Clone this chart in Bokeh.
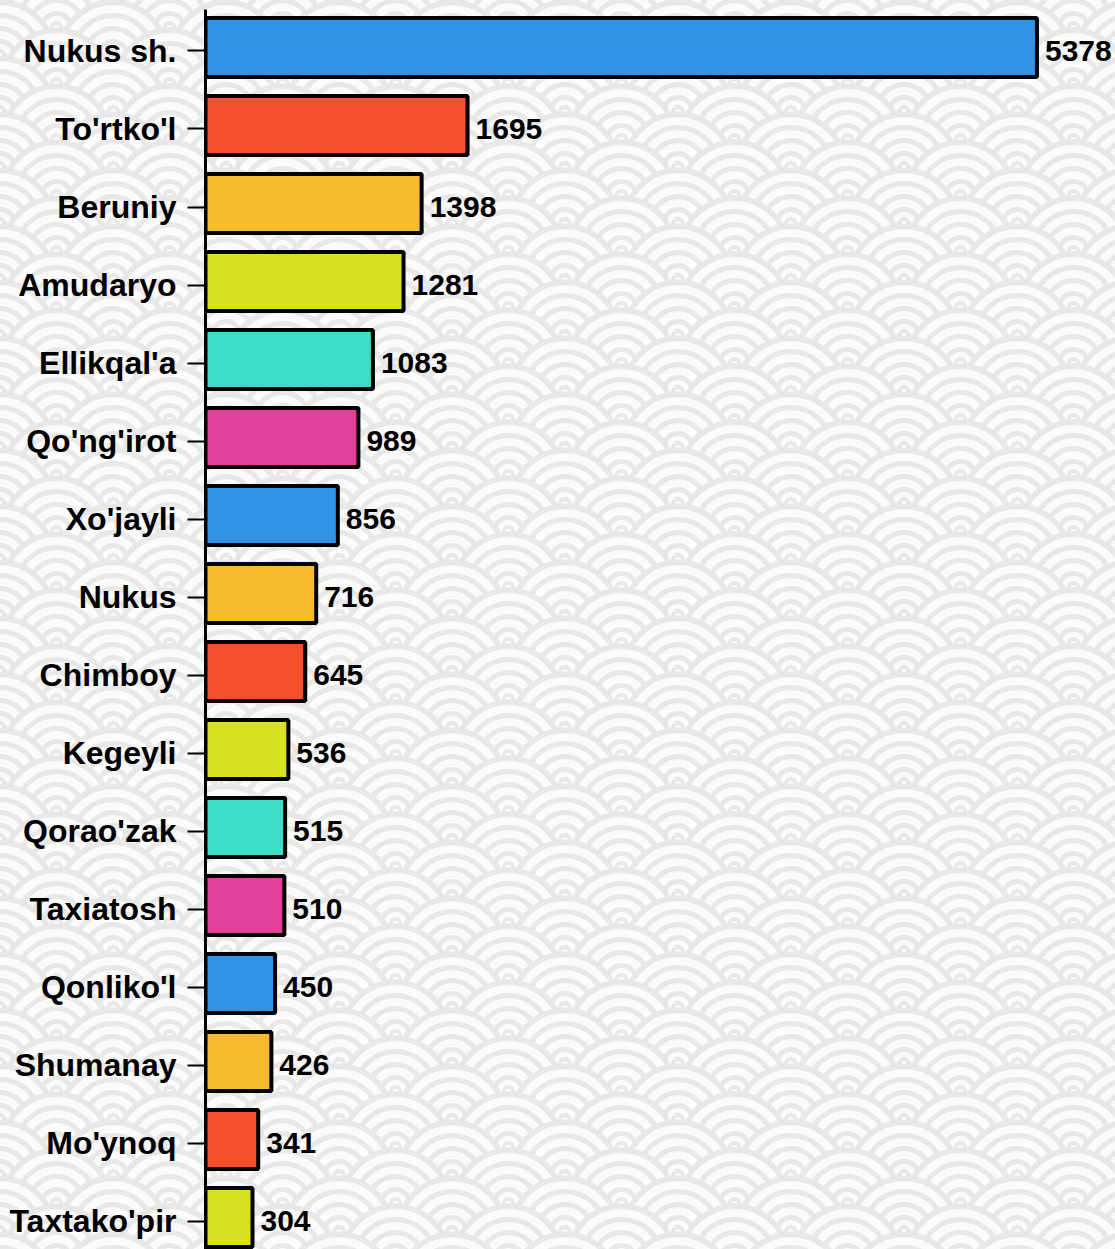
import base64
from bokeh.plotting import figure
from bokeh.models import ColumnDataSource, Range1d, FixedTicker, LabelSet, GlobalInlineStyleSheet
from bokeh.core.properties import value
from bokeh.transform import dodge
from bokeh.embed import file_html
from bokeh.resources import INLINE

# ---- data ----
districts = ["Nukus sh.", "To'rtko'l", "Beruniy", "Amudaryo", "Ellikqal'a", "Qo'ng'irot",
             "Xo'jayli", "Nukus", "Chimboy", "Kegeyli", "Qorao'zak", "Taxiatosh",
             "Qonliko'l", "Shumanay", "Mo'ynoq", "Taxtako'pir"]
counts = [5378, 1695, 1398, 1281, 1083, 989, 856, 716, 645, 536, 515, 510, 450, 426, 341, 304]
bar_colors = ["#2F93E8", "#F5502C", "#F6BC2E", "#D8E022", "#3DDCC4", "#E43F98",
              "#2F93E8", "#F6BC2E", "#F5502C", "#D8E022", "#3DDCC4", "#E43F98",
              "#2F93E8", "#F6BC2E", "#F5502C", "#D8E022"]

# ---- seigaiha background pattern (decoration) ----
def seigaiha_svg():
    W, H = 113.0, 56.0
    grey, white = "#e8e8e8", "#fbfbfb"
    bands = [(56.5, grey), (51, white), (43, grey), (38, white), (30, grey), (25, white),
             (17, grey), (12, white), (7, grey), (3, white)]
    parts = []
    for j in range(-2, 5):
        cy = j * 28.0
        xs = [0.0, W] if j % 2 == 0 else [-W / 2, W / 2, W * 1.5]
        for cx in xs:
            for r, c in bands:
                parts.append(f'<circle cx="{cx}" cy="{cy}" r="{r}" fill="{c}"/>')
    svg = (f'<svg xmlns="http://www.w3.org/2000/svg" width="{W}" height="{H}" '
           f'viewBox="0 0 {W} {H}">' + "".join(parts) + "</svg>")
    return base64.b64encode(svg.encode()).decode()

css = ("html, body { background-color: #f4f4f4; background-image: url('data:image/svg+xml;base64,"
       + seigaiha_svg() + "'); background-size: 113px 56px; }")

# ---- figure ----
ys = list(range(len(districts)))
src = ColumnDataSource(dict(y=ys, value=counts, color=bar_colors,
                            label=[str(v) for v in counts]))

p = figure(width=1115, height=1249, output_backend="svg", toolbar_location=None,
           x_axis_location=None,
           x_range=Range1d(0, 5886), y_range=Range1d(15.365, -0.532),
           min_border_left=205, min_border_right=0, min_border_top=9, min_border_bottom=0)
p.background_fill_color = None
p.border_fill_color = None
p.outline_line_color = None
p.xgrid.visible = False
p.ygrid.visible = False
p.stylesheets = [GlobalInlineStyleSheet(css=css)]

p.hbar(y=dodge("y", -0.045, range=p.y_range), left=0, right="value", height=0.756,
       fill_color="color", line_color="black", line_width=4, source=src)

labels = LabelSet(x="value", y="y", text="label", x_offset=8, source=src,
                  text_baseline="middle", text_align="left",
                  text_font=value("Liberation Sans"), text_font_style="bold",
                  text_font_size="30px", text_color="black")
p.add_layout(labels)

ax = p.yaxis[0]
ax.ticker = FixedTicker(ticks=ys)
ax.major_label_overrides = {i: d for i, d in zip(ys, districts)}
ax.axis_line_color = "black"
ax.axis_line_width = 3
ax.major_tick_line_color = "black"
ax.major_tick_line_width = 2
ax.major_tick_out = 18
ax.major_tick_in = 0
ax.minor_tick_line_color = None
ax.major_label_standoff = 11
ax.major_label_text_font = "Liberation Sans"
ax.major_label_text_font_style = "bold"
ax.major_label_text_font_size = "32px"
ax.major_label_text_color = "black"

open("out.html", "w").write(file_html(p, INLINE))
